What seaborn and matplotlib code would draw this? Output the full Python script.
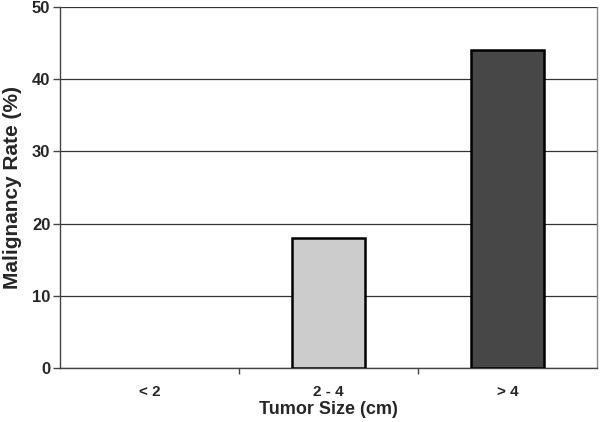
import matplotlib
matplotlib.use("Agg")
import matplotlib.pyplot as plt
import seaborn as sns
import pandas as pd

sizes = ["< 2", "2 - 4", "> 4"]
rates = [0, 18, 44]
bar_colors = ["#ffffff", "#cccccc", "#474747"]
y_ticks = [0, 10, 20, 30, 40, 50]

sns.set_theme(style="white")
plt.rcParams["font.family"] = ["Liberation Sans", "DejaVu Sans"]

df = pd.DataFrame({"size": sizes, "rate": rates})

fig, ax = plt.subplots(figsize=(6, 4.22), dpi=100)
fig.subplots_adjust(left=0.1, right=0.995, top=0.983, bottom=0.128)

sns.barplot(data=df, x="size", y="rate", hue="size", palette=bar_colors,
            legend=False, width=0.41, edgecolor="black", linewidth=1.8,
            ax=ax, zorder=3)
# the "< 2" bar is zero height; hide its outline
for p, v in zip(ax.patches, rates):
    if v == 0:
        p.set_visible(False)

ax.set_ylim(0, 50)
ax.set_xlim(-0.5, 2.5)
ax.set_yticks(y_ticks)
ax.yaxis.grid(True, color="#333333", linewidth=0.9, zorder=0)
ax.set_axisbelow(True)

for side in ["left", "bottom", "right"]:
    ax.spines[side].set_visible(True)
    ax.spines[side].set_color("#444444")
    ax.spines[side].set_linewidth(1.0)
ax.spines["right"].set_color("#888888")
ax.spines["top"].set_visible(False)

ax.tick_params(axis="y", direction="out", length=5, width=1, color="#444444",
               labelsize=12, pad=2, left=True)
ax.tick_params(axis="x", which="major", length=0, labelsize=11, pad=12)
ax.set_xticks([0.5, 1.5], minor=True)
ax.tick_params(axis="x", which="minor", direction="out", length=4, width=1,
               color="#444444", bottom=True)
for lbl in ax.get_yticklabels() + ax.get_xticklabels():
    lbl.set_fontweight("bold")

ax.set_xlabel("Tumor Size (cm)", fontsize=13, fontweight="bold", labelpad=2)
ax.set_ylabel("Malignancy Rate (%)", fontsize=15, fontweight="bold", labelpad=7)

fig.savefig("out.png", dpi=100)
